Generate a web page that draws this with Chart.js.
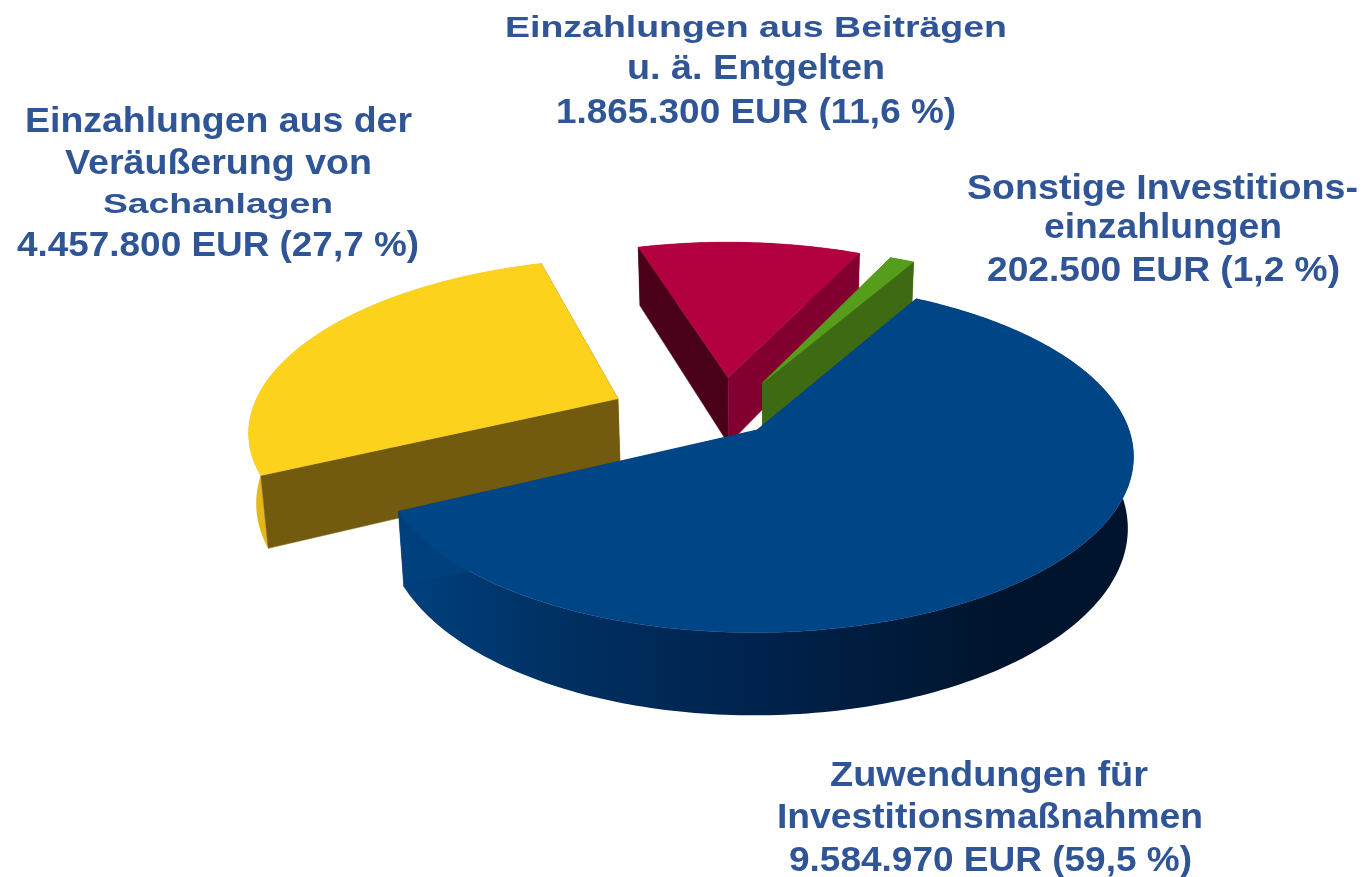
<!DOCTYPE html>
<html lang="de">
<head>
<meta charset="utf-8">
<title>Investitionseinzahlungen</title>
<style>html,body{margin:0;padding:0;background:#fff}canvas{display:block}</style>
<script src="https://cdn.jsdelivr.net/npm/chart.js@4"></script>
</head>
<body>
<canvas id="c" width="1362" height="877"></canvas>
<script>
const categories = ["Zuwendungen für Investitionsmaßnahmen", "Einzahlungen aus der Veräußerung von Sachanlagen", "Einzahlungen aus Beiträgen u. ä. Entgelten", "Sonstige Investitionseinzahlungen"];
const amounts = [9584970, 4457800, 1865300, 202500];

const labelText = ["Einzahlungen aus Beiträgen","u. ä. Entgelten","1.865.300 EUR (11,6 %)",
  "Einzahlungen aus der","Veräußerung von","Sachanlagen","4.457.800 EUR (27,7 %)",
  "Sonstige Investitions-","einzahlungen","202.500 EUR (1,2 %)",
  "Zuwendungen für","Investitionsmaßnahmen","9.584.970 EUR (59,5 %)"];
// layout of the text lines: left, right, baseline, font size
const labelLeft  = [505,627,556, 25,65,103,17, 967,1044,987, 830,777,789];
const labelRight = [1007,885,956, 412,372,333,419, 1358,1282,1340, 1148,1203,1192];
const labelBase  = [37,79,123, 132,174,213,256, 199,238,281, 786,828,871];
const labelSize  = [30,35,35, 35,35,28,35, 35,35,35, 35,35,35];

// 3D look
const VIEW = {squash:0.46, focal:2400, depth:70, lowerScale:0.985, rotation:29.5, bend:0.00002};
const explodeX = [0,-143,-30,6];
const explodeY = [0,-70,-120,-107];
const topColors = ["#004586","#fcd21c","#b30041","#579d1c"];
const startWall = ["#00407c","#725b0e","#4a0018","#3d6a12"];
const endWall   = ["#00407c","#725b0e","#820030","#3d6a12"];
const rimStops  = [
  [[0.29,"#00417f"],[0.42,"#002f60"],[0.56,"#00224c"],[0.73,"#00152d"],[0.83,"#00152d"]],
  [[0,"#e8bc1a"],[1,"#d0a818"]],
  [[0,"#4a0018"],[1,"#820030"]],
  [[0,"#3d6a12"],[1,"#3d6a12"]]
];

function proj(cx,cy,X,Y,low){
  const s = 1/(1 - Y/VIEW.focal);
  return [cx + X*s*(low?VIEW.lowerScale:1) - VIEW.bend*Y*Y, cy + Y*VIEW.squash*s + (low?VIEW.depth*s:0)];
}
function poly(ctx,pts,fill){
  ctx.beginPath();
  pts.forEach((p,i)=> i?ctx.lineTo(p[0],p[1]):ctx.moveTo(p[0],p[1]));
  ctx.closePath();
  ctx.fillStyle = fill; ctx.fill();
  ctx.strokeStyle = fill; ctx.lineWidth = 0.5;
  if (typeof fill === "string") ctx.stroke();
}

const pie3d = {
  id:"pie3d",
  beforeDatasetsDraw(chart){
    const ctx = chart.ctx;
    const arcs = chart.getDatasetMeta(0).data;
    [1,2,3,0].forEach(i=>{
      const a = arcs[i], r = a.outerRadius, ox = explodeX[i], oy = explodeY[i];
      const at = (ang,rad,low)=>proj(a.x,a.y,ox+rad*Math.cos(ang),oy+rad*Math.sin(ang),low);
      const up=[], lo=[];
      const n = Math.max(2,Math.ceil((a.endAngle-a.startAngle)*180/Math.PI));
      for(let k=0;k<=n;k++){
        const t = a.startAngle+(a.endAngle-a.startAngle)*k/n;
        up.push(at(t,r,false)); lo.push(at(t,r,true));
      }
      const apexU = at(0,0,false), apexL = at(0,0,true);
      const grad = ctx.createLinearGradient(0,0,chart.width,0);
      rimStops[i].forEach(s=>grad.addColorStop(s[0],s[1]));
      poly(ctx,up.concat(lo.slice().reverse()),grad);
      const walls = [
        {pts:[apexU,up[0],lo[0],apexL],c:startWall[i],y:Math.sin(a.startAngle)},
        {pts:[apexU,up[n],lo[n],apexL],c:endWall[i],y:Math.sin(a.endAngle)}
      ].sort((p,q)=>p.y-q.y);
      walls.forEach(w=>poly(ctx,w.pts,w.c));
      poly(ctx,[apexU].concat(up),topColors[i]);
    });
    // text
    ctx.save();
    ctx.fillStyle="#2f5597";
    ctx.textBaseline="alphabetic"; ctx.textAlign="left";
    ctx.filter="blur(0.6px)";
    labelText.forEach((t,i)=>{
      ctx.font=`bold ${labelSize[i]}px "Liberation Sans", Arial, sans-serif`;
      const w=ctx.measureText(t).width, sx=(labelRight[i]-labelLeft[i])/w;
      ctx.save();
      ctx.translate(labelLeft[i],labelBase[i]); ctx.scale(sx,1);
      ctx.fillText(t,0,0);
      ctx.restore();
    });
    ctx.restore();
    return false;
  }
};

new Chart(document.getElementById("c"),{
  type:"pie",
  data:{labels:categories,datasets:[{data:amounts,backgroundColor:topColors,borderWidth:0}]},
  options:{
    responsive:false,animation:false,
    rotation:VIEW.rotation,radius:372,
    layout:{padding:{left:152,bottom:17}},
    plugins:{legend:{display:false},tooltip:{enabled:false}}
  },
  plugins:[pie3d]
});
</script>
</body>
</html>
